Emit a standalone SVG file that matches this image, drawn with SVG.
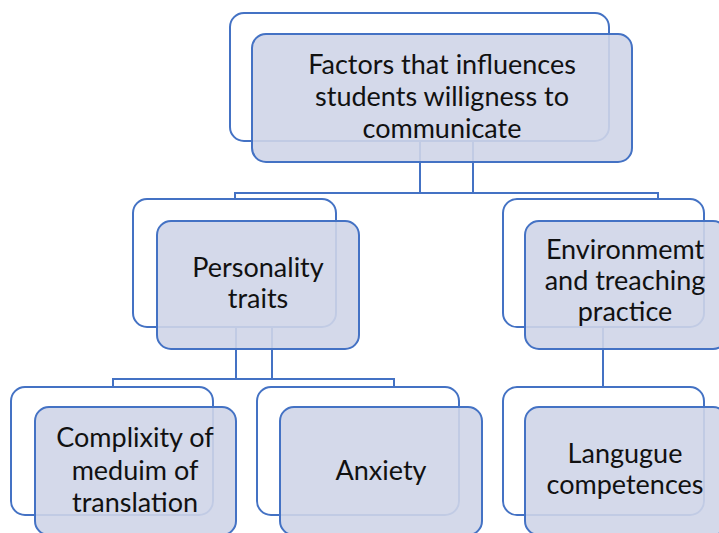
<svg xmlns="http://www.w3.org/2000/svg" width="719" height="533" viewBox="0 0 719 533">
<style>
.back{fill:#ffffff;stroke:#4472c4;stroke-width:2}
.front{fill:#cfd5e8;fill-opacity:0.9;stroke:#4472c4;stroke-width:2}
.lbl{font-family:Lato,"Liberation Sans",sans-serif;font-size:27px;fill:#111111;text-anchor:middle}
.conn{fill:none;stroke:#4472c4;stroke-width:2}
</style>
<rect width="719" height="533" fill="#ffffff"/>
<g id="connectors">
<path class="conn" d="M420,141 V193 M473,141 V193 M235,199 V193 H658 V199"/>
<path class="conn" d="M236,327 V379 M272,327 V379 M113,387 V379 H394 V387"/>
<path class="conn" d="M603,327 V387"/>
</g>
<g id="node-root">
<rect class="back" x="230" y="13" width="379" height="128" rx="14"/>
<rect class="front" x="252" y="34" width="380" height="128" rx="14"/>
<text class="lbl"><tspan x="442" y="74">Factors that influences</tspan><tspan x="442" y="106">students willigness to</tspan><tspan x="442" y="138">communicate</tspan></text>
</g>
<g id="node-personality">
<rect class="back" x="133" y="199" width="203" height="128" rx="14"/>
<rect class="front" x="157" y="221" width="202" height="128" rx="14"/>
<text class="lbl"><tspan x="258" y="277">Personality</tspan><tspan x="258" y="308">traits</tspan></text>
</g>
<g id="node-environment">
<rect class="back" x="503" y="199" width="201" height="128" rx="14"/>
<rect class="front" x="525" y="221" width="202" height="128" rx="14"/>
<text class="lbl"><tspan x="625" y="259">Environmemt</tspan><tspan x="625" y="290">and treaching</tspan><tspan x="625" y="321">practice</tspan></text>
</g>
<g id="node-complexity">
<rect class="back" x="11" y="387" width="202" height="128" rx="14"/>
<rect class="front" x="35" y="407" width="201" height="128" rx="14"/>
<text class="lbl"><tspan x="135" y="447">Complixity of</tspan><tspan x="135" y="480">meduim of</tspan><tspan x="135" y="512">translation</tspan></text>
</g>
<g id="node-anxiety">
<rect class="back" x="257" y="387" width="202" height="128" rx="14"/>
<rect class="front" x="280" y="407" width="202" height="128" rx="14"/>
<text class="lbl" x="381" y="480">Anxiety</text>
</g>
<g id="node-language">
<rect class="back" x="503" y="387" width="201" height="128" rx="14"/>
<rect class="front" x="525" y="407" width="202" height="128" rx="14"/>
<text class="lbl"><tspan x="625" y="463">Langugue</tspan><tspan x="625" y="494">competences</tspan></text>
</g>
</svg>
